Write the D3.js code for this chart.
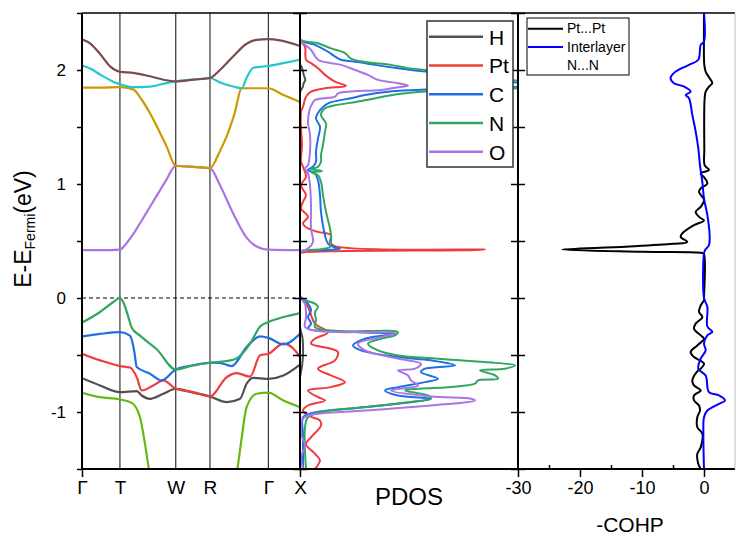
<!DOCTYPE html>
<html>
<head>
<meta charset="utf-8">
<script src="https://cdn.jsdelivr.net/npm/d3@7"></script>
<style>
  body { margin: 0; background: #fff; }
  svg { font-family: "Liberation Sans", Arial, sans-serif; }
</style>
</head>
<body>
<script>
// high symmetry points of the k path
var kLabels = ["Γ", "T", "W", "R", "Γ", "X"];
var kPos = [0, 0.174, 0.430, 0.587, 0.855, 1.0];

// tick values
var energyTicks = [2, 1, 0, -1];
var energyMinor = [2.5, 1.5, 0.5, -0.5, -1.5];
var energyAll = [2.5, 2, 1.5, 1, 0.5, 0, -0.5, -1, -1.5];
var cohpTicks = [-30, -20, -10, 0];
var cohpMinor = [-25, -15, -5];

// bands, [k, E]
var bandPurple = [[0,0.42],[0.083,0.42],[0.174,0.425],[0.2,0.47],[0.235,0.56],[0.274,0.68],[0.312,0.80],[0.35,0.92],[0.388,1.04],[0.43,1.16],[0.511,1.15],[0.587,1.14],[0.633,0.99],[0.694,0.74],[0.755,0.53],[0.786,0.47],[0.832,0.43],[0.855,0.425],[1.0,0.42]];
var bandGold = [[0,1.845],[0.083,1.845],[0.174,1.85],[0.235,1.83],[0.27,1.75],[0.312,1.62],[0.35,1.48],[0.388,1.33],[0.43,1.16],[0.511,1.15],[0.587,1.14],[0.633,1.29],[0.664,1.42],[0.7,1.62],[0.733,1.84],[0.855,1.84],[0.924,1.78],[1.0,1.72]];
var bandCyan = [[0,2.04],[0.04,2.01],[0.083,1.96],[0.13,1.91],[0.159,1.885],[0.174,1.875],[0.235,1.85],[0.312,1.855],[0.388,1.885],[0.43,1.90],[0.511,1.915],[0.587,1.93],[0.633,1.89],[0.694,1.855],[0.733,1.84],[0.755,1.93],[0.786,2.02],[0.855,2.035],[0.924,2.06],[1.0,2.09]];
var bandBrown = [[0,2.27],[0.04,2.23],[0.083,2.14],[0.13,2.03],[0.174,1.985],[0.235,1.975],[0.312,1.945],[0.388,1.91],[0.43,1.90],[0.511,1.915],[0.587,1.93],[0.633,2.0],[0.694,2.12],[0.755,2.23],[0.801,2.265],[0.855,2.27],[0.908,2.26],[1.0,2.21]];
var bandGrey = [[0,-0.703],[0.083,-0.767],[0.174,-0.826],[0.251,-0.817],[0.274,-0.855],[0.312,-0.884],[0.373,-0.84],[0.43,-0.796],[0.511,-0.83],[0.587,-0.864],[0.664,-0.914],[0.725,-0.884],[0.755,-0.752],[0.786,-0.70],[0.855,-0.709],[0.924,-0.68],[1.0,-0.585]];
var bandRed = [[0,-0.489],[0.083,-0.547],[0.174,-0.597],[0.22,-0.61],[0.251,-0.694],[0.274,-0.811],[0.327,-0.767],[0.373,-0.723],[0.43,-0.796],[0.511,-0.826],[0.587,-0.864],[0.664,-0.694],[0.709,-0.659],[0.771,-0.69],[0.817,-0.503],[0.855,-0.489],[0.924,-0.40],[0.97,-0.445],[1.0,-0.518]];
var bandBlue = [[0,-0.337],[0.083,-0.315],[0.174,-0.30],[0.22,-0.33],[0.24,-0.47],[0.251,-0.606],[0.312,-0.664],[0.365,-0.723],[0.43,-0.627],[0.511,-0.59],[0.587,-0.568],[0.633,-0.57],[0.687,-0.597],[0.755,-0.43],[0.817,-0.337],[0.855,-0.35],[0.924,-0.407],[1.0,-0.313]];
var bandGreen = [[0,-0.216],[0.083,-0.123],[0.144,-0.035],[0.174,0.0],[0.19,-0.04],[0.21,-0.15],[0.228,-0.26],[0.266,-0.33],[0.343,-0.45],[0.43,-0.627],[0.511,-0.59],[0.587,-0.568],[0.664,-0.553],[0.709,-0.53],[0.771,-0.40],[0.817,-0.25],[0.855,-0.211],[0.924,-0.167],[1.0,-0.132]];
var bandLime = [[0,-0.831],[0.083,-0.87],[0.174,-0.89],[0.228,-0.92],[0.266,-1.046],[0.289,-1.28],[0.307,-1.505],[0.315,-1.6],[0.5,null],[0.705,-1.6],[0.713,-1.5],[0.733,-1.22],[0.755,-0.958],[0.801,-0.84],[0.855,-0.83],[0.924,-0.9],[1.0,-0.958]];

var bands = [bandPurple, bandGold, bandCyan, bandBrown, bandGrey, bandRed, bandBlue, bandGreen, bandLime];
var bandColors = ["#a974e8", "#cc9900", "#22c8cc", "#7d4b4b", "#505050", "#f03c3c", "#1e6ee6", "#30a65e", "#66b814"];

// projected density of states, [E, DOS]
var dosH = [[2.5,0],[2.05,0],[2.03,0.15],[1.95,0.4],[1.913,0.53],[1.88,0.35],[1.855,0.3],[1.80,0],[-0.25,0],[-0.35,0.25],[-0.5,0.3],[-0.6,0.2],[-0.7,0],[-1.5,0]];
var dosPt = [[2.5,0],[2.27,0],[2.205,0.5],[2.09,0.6],[2.06,1.1],[2.016,1.8],[1.957,2.5],[1.898,3.5],[1.86,4.6],[1.84,2.5],[1.81,1.1],[1.766,0.6],[1.678,0.3],[1.635,0.1],[1.489,0.1],[1.342,0.2],[1.195,0.1],[1.151,0.3],[1.063,0.6],[0.99,0.1],[0.902,0.6],[0.844,0.3],[0.785,0.1],[0.712,0.8],[0.654,0.3],[0.61,0.8],[0.58,1.8],[0.551,3.1],[0.492,3.0],[0.455,3.5],[0.424,18.5],[0.41,3],[0.40,0.3],[0.39,0],[0.02,0],[-0.079,0.8],[-0.225,1.5],[-0.30,2.8],[-0.357,1.5],[-0.40,1.1],[-0.445,3.1],[-0.474,3.8],[-0.547,3.5],[-0.62,1.8],[-0.679,3.1],[-0.738,4.5],[-0.782,3.1],[-0.811,0.8],[-0.87,1.8],[-0.899,2.5],[-0.943,0.8],[-0.987,0.3],[-1.031,0.8],[-1.075,2.0],[-1.119,2.1],[-1.222,1.1],[-1.28,0.6],[-1.367,1.5],[-1.426,2.0],[-1.5,1.5]];
var dosC = [[2.5,0],[2.27,0],[2.22,1.5],[2.16,2.8],[2.118,3.5],[2.09,4.1],[2.07,5.8],[2.045,7.5],[2.016,9.8],[1.986,12.6],[1.95,17],[1.885,22],[1.87,24],[1.855,22],[1.84,16],[1.81,8.8],[1.78,6.5],[1.752,5.1],[1.708,2.8],[1.649,2.0],[1.576,1.6],[1.503,2.0],[1.40,1.8],[1.283,1.6],[1.195,1.6],[1.151,1.3],[1.122,0.8],[1.093,1.5],[1.034,1.8],[0.902,2.0],[0.756,2.1],[0.551,2.5],[0.478,2.8],[0.439,3.6],[0.43,4.0],[0.419,2.1],[0.40,0],[0.02,0],[-0.01,0.3],[-0.05,0.8],[-0.108,1.1],[-0.167,0.8],[-0.225,1.1],[-0.269,0.8],[-0.29,3.1],[-0.304,7.5],[-0.313,9.5],[-0.357,6.5],[-0.416,5.3],[-0.46,6.1],[-0.518,9.8],[-0.547,13.1],[-0.591,15.5],[-0.62,12.5],[-0.65,12.1],[-0.708,13.8],[-0.738,12.5],[-0.782,9.8],[-0.811,8.5],[-0.855,9.8],[-0.884,13.1],[-0.928,9.8],[-0.972,4.8],[-1.01,1.1],[-1.046,0.3],[-1.2,0.3],[-1.5,0.3]];
var dosN = [[2.5,0],[2.27,0],[2.235,1.8],[2.19,3.1],[2.148,4.5],[2.10,5.1],[2.07,6.5],[2.045,9.1],[2.016,10.8],[2.0,12.6],[1.95,17],[1.905,21.8],[1.87,25],[1.84,21.8],[1.825,15],[1.80,11],[1.77,8.5],[1.745,7.2],[1.72,5.6],[1.69,3.5],[1.664,2.5],[1.605,2.1],[1.532,2.6],[1.459,2.5],[1.342,2.3],[1.254,2.1],[1.195,2.1],[1.151,1.8],[1.13,1.1],[1.115,2.2],[1.10,1.2],[1.078,1.8],[1.019,2.1],[0.902,2.3],[0.756,2.6],[0.61,3.0],[0.551,3.1],[0.492,3.1],[0.448,3.0],[0.428,2.1],[0.41,0.1],[0.39,0],[0.02,0],[-0.01,0.3],[-0.05,1.5],[-0.079,1.8],[-0.123,1.5],[-0.196,1.6],[-0.255,1.5],[-0.29,3.8],[-0.30,9.8],[-0.328,9.5],[-0.357,8.1],[-0.40,6.8],[-0.46,7.8],[-0.504,9.8],[-0.532,13.8],[-0.562,18.5],[-0.591,21.5],[-0.62,20.5],[-0.635,18],[-0.679,19.5],[-0.708,19.8],[-0.723,17.8],[-0.752,17.5],[-0.782,14.8],[-0.811,10.5],[-0.855,12.8],[-0.884,13.1],[-0.914,10.8],[-0.958,6.5],[-0.993,2.5],[-1.046,0.8],[-1.134,0.5],[-1.34,0.5],[-1.5,0.6]];
var dosO = [[2.5,0],[2.27,0],[2.177,1.1],[2.09,1.8],[2.06,3.1],[2.045,4.1],[2.0,5.5],[1.957,6.8],[1.913,7.8],[1.884,9.8],[1.863,10.8],[1.845,9.5],[1.825,8.1],[1.81,4.8],[1.796,3.8],[1.766,3.5],[1.737,1.5],[1.70,1.2],[1.664,1.0],[1.547,0.8],[1.43,1.0],[1.283,1.0],[1.166,0.8],[1.137,0.5],[1.093,0.8],[0.99,1.0],[0.815,1.1],[0.61,1.1],[0.492,1.3],[0.434,0.8],[0.404,0.1],[0.39,0],[0.02,0],[-0.05,0.5],[-0.167,0.6],[-0.255,0.5],[-0.29,1.8],[-0.30,6.5],[-0.307,9.6],[-0.343,8.1],[-0.40,5.8],[-0.46,6.5],[-0.532,9.8],[-0.576,12.1],[-0.62,11.5],[-0.635,9.8],[-0.679,10.8],[-0.723,11.1],[-0.767,11.8],[-0.811,9.1],[-0.864,13.1],[-0.884,17.1],[-0.899,17.5],[-0.943,13.1],[-0.987,6.5],[-1.031,0.8],[-1.06,0.3],[-1.19,0.1],[-1.294,0.5],[-1.397,0.1],[-1.5,0.3]];

var dosNames = ["H", "Pt", "C", "N", "O"];
var dosSeries = [dosH, dosPt, dosC, dosN, dosO];
var dosColors = ["#505050", "#f03c3c", "#1e6ee6", "#30a65e", "#a974e8"];

// crystal orbital hamilton population, [E, -COHP]
var cohpPtPt = [[2.5,0],[2.09,0],[2.045,0.05],[1.986,0.27],[1.928,0.91],[1.884,1.34],[1.854,0.8],[1.81,0.27],[1.75,0.1],[1.3,0.05],[1.166,0.1],[1.122,0.8],[1.093,-0.53],[1.06,0],[1.005,0.54],[0.961,-0.53],[0.93,-0.8],[0.859,0],[0.80,-0.53],[0.756,-1.34],[0.712,-0.8],[0.68,0],[0.639,-1.61],[0.566,-3.5],[0.536,-3.76],[0.492,-2.69],[0.475,-5],[0.45,-12.6],[0.425,-22.9],[0.405,-10],[0.395,-0.3],[0.385,0],[0.0,0],[-0.02,0],[-0.064,-0.53],[-0.123,-0.8],[-0.167,-0.27],[-0.225,-1.34],[-0.269,-1.61],[-0.328,-0.53],[-0.357,0],[-0.416,-1.08],[-0.474,-2.15],[-0.518,-1.61],[-0.576,0],[-0.62,-0.53],[-0.644,-1.08],[-0.723,-1.88],[-0.767,-1.61],[-0.811,-0.53],[-0.855,-1.61],[-0.899,-1.61],[-0.943,-0.8],[-0.987,-0.65],[-1.046,-1.08],[-1.134,-1.08],[-1.19,-0.27],[-1.31,-0.53],[-1.367,-1.08],[-1.455,-0.92],[-1.5,-0.53]];
var cohpInter = [[2.5,0],[2.25,0],[2.22,-0.53],[2.09,-0.92],[2.045,-2.42],[1.986,-4.56],[1.928,-5.4],[1.884,-4.84],[1.854,-3.2],[1.81,-2.15],[1.78,-2.95],[1.752,-2.42],[1.605,-1.88],[1.459,-1.34],[1.313,-0.92],[1.166,-0.65],[1.019,-0.27],[0.873,0],[0.727,0.54],[0.551,0.91],[0.463,0.8],[0.419,0.16],[0.39,0],[0.0,0],[-0.079,0.54],[-0.25,0.54],[-0.298,1.34],[-0.328,0.54],[-0.4,0],[-0.46,0.27],[-0.532,-0.53],[-0.62,-0.92],[-0.68,0.27],[-0.826,0.8],[-0.855,2.42],[-0.899,3.39],[-0.928,2.42],[-0.987,0.54],[-1.046,0],[-1.2,-0.1],[-1.5,0]];

var cohpNames = ["Pt...Pt", "Interlayer", "N...N"];
var cohpColors = ["#000000", "#0000ff", null];

// panel geometry
var plotTop = 13, plotBottom = 469;
var bandLeft = 82, bandRight = 300, dosRight = 518, cohpRight = 735;

var svg = d3.select("body")
  .append("svg")
   .attr("width", 736)
   .attr("height", 537);

var yscale = d3.scaleLinear().domain([-1.5, 2.5]).range([plotBottom, plotTop]);
var kscale = d3.scaleLinear().domain([0, 1]).range([bandLeft, bandRight]);
var dosscale = d3.scaleLinear().domain([0, 21.8]).range([bandRight, dosRight]);
var cohpscale = d3.scaleLinear().domain([-30, 5]).range([dosRight, cohpRight]);

// clip paths for the three panels
var defs = svg.append("defs");
function addClip(id, x0, x1) {
  defs.append("clipPath").attr("id", id)
    .append("rect")
    .attr("x", x0).attr("y", plotTop)
    .attr("width", x1 - x0).attr("height", plotBottom - plotTop);
}
addClip("clipBand", bandLeft, bandRight);
addClip("clipDos", bandRight, dosRight);
addClip("clipCohp", dosRight, cohpRight);

// vertical lines at the high symmetry points
svg.append("g").selectAll("line")
  .data(kPos.slice(1, 5))
  .enter().append("line")
  .attr("x1", function(d) { return kscale(d); })
  .attr("x2", function(d) { return kscale(d); })
  .attr("y1", plotTop).attr("y2", plotBottom)
  .style("stroke", "#333")
  .style("stroke-width", 1.2);

// fermi level
svg.append("line")
  .attr("x1", bandLeft).attr("x2", bandRight)
  .attr("y1", yscale(0)).attr("y2", yscale(0))
  .style("stroke", "#000")
  .style("stroke-width", 1)
  .style("stroke-dasharray", "4,3");

// band lines
var bandLine = d3.line()
  .defined(function(d) { return d[1] !== null; })
  .x(function(d) { return kscale(d[0]); })
  .y(function(d) { return yscale(d[1]); })
  .curve(d3.curveMonotoneX);

svg.append("g")
  .attr("clip-path", "url(#clipBand)")
  .selectAll("path")
  .data(bands)
  .enter().append("path")
  .attr("d", bandLine)
  .style("fill", "none")
  .style("stroke", function(d, i) { return bandColors[i]; })
  .style("stroke-width", 2.2);

// pdos lines
var dosLine = d3.line()
  .x(function(d) { return dosscale(d[1]); })
  .y(function(d) { return yscale(d[0]); })
  .curve(d3.curveCatmullRom.alpha(0.5));

svg.append("g")
  .attr("clip-path", "url(#clipDos)")
  .selectAll("path")
  .data(dosSeries)
  .enter().append("path")
  .attr("d", dosLine)
  .style("fill", "none")
  .style("stroke", function(d, i) { return dosColors[i]; })
  .style("stroke-width", 2);

// cohp lines
var cohpLine = d3.line()
  .x(function(d) { return cohpscale(d[1]); })
  .y(function(d) { return yscale(d[0]); })
  .curve(d3.curveCatmullRom.alpha(0.5));

svg.append("g")
  .attr("clip-path", "url(#clipCohp)")
  .selectAll("path")
  .data([cohpPtPt, cohpInter])
  .enter().append("path")
  .attr("d", cohpLine)
  .style("fill", "none")
  .style("stroke", function(d, i) { return cohpColors[i]; })
  .style("stroke-width", 2);

// left y axis with labels
svg.append("g")
  .attr("class", "yaxis")
  .attr("transform", "translate(" + bandLeft + ",0)")
  .call(d3.axisLeft(yscale).tickValues(energyTicks).tickSize(5).tickPadding(11)
    .tickFormat(function(d) { return String(d); }))
  .call(function(g) { g.select(".domain").remove(); });

svg.append("g")
  .attr("transform", "translate(" + bandLeft + ",0)")
  .call(d3.axisLeft(yscale).tickValues(energyMinor).tickSize(5).tickFormat(""))
  .call(function(g) { g.select(".domain").remove(); });

// ticks on both sides of the inner panel borders
[bandRight, dosRight].forEach(function(xpos) {
  svg.append("g")
    .attr("transform", "translate(" + xpos + ",0)")
    .call(d3.axisLeft(yscale).tickValues(energyAll).tickSize(7).tickFormat(""))
    .call(function(g) { g.select(".domain").remove(); });
  svg.append("g")
    .attr("transform", "translate(" + xpos + ",0)")
    .call(d3.axisRight(yscale).tickValues(energyAll).tickSize(7).tickFormat(""))
    .call(function(g) { g.select(".domain").remove(); });
});

// k path labels
svg.append("g")
  .attr("class", "klabels")
  .attr("transform", "translate(0," + plotBottom + ")")
  .call(d3.axisBottom(kscale).tickValues(kPos).tickSize(0).tickPadding(12)
    .tickFormat(function(d, i) { return kLabels[i]; }))
  .call(function(g) { g.select(".domain").remove(); });

svg.append("g")
  .attr("transform", "translate(0," + plotBottom + ")")
  .call(d3.axisBottom(kscale).tickValues([0, 1]).tickSize(8).tickFormat(""))
  .call(function(g) { g.select(".domain").remove(); });

// cohp x axis
svg.append("g")
  .attr("class", "cohpaxis")
  .attr("transform", "translate(0," + plotBottom + ")")
  .call(d3.axisBottom(cohpscale).tickValues(cohpTicks).tickSize(8).tickPadding(4)
    .tickFormat(function(d) { return String(d); }))
  .call(function(g) { g.select(".domain").remove(); });

svg.append("g")
  .attr("transform", "translate(0," + plotBottom + ")")
  .call(d3.axisBottom(cohpscale).tickValues(cohpMinor).tickSize(-4).tickFormat(""))
  .call(function(g) { g.select(".domain").remove(); });

svg.selectAll(".tick line").style("stroke", "#000").style("stroke-width", 1.5);
svg.selectAll(".tick text").style("fill", "#000").style("font-family", "'Liberation Sans', Arial, sans-serif");
svg.selectAll(".yaxis .tick text").style("font-size", "17px");
svg.selectAll(".klabels .tick text").style("font-size", "19px");
svg.selectAll(".cohpaxis .tick text").style("font-size", "18px");

// frame
svg.append("line").attr("x1", bandLeft).attr("x2", cohpRight).attr("y1", plotTop).attr("y2", plotTop)
  .style("stroke", "#000").style("stroke-width", 1.5);
svg.append("line").attr("x1", bandLeft).attr("x2", cohpRight).attr("y1", plotBottom).attr("y2", plotBottom)
  .style("stroke", "#000").style("stroke-width", 2);
[bandLeft, bandRight, dosRight].forEach(function(xpos) {
  svg.append("line").attr("x1", xpos).attr("x2", xpos).attr("y1", plotTop).attr("y2", plotBottom)
    .style("stroke", "#000").style("stroke-width", 2);
});
svg.append("line").attr("x1", cohpRight).attr("x2", cohpRight).attr("y1", plotTop).attr("y2", plotBottom)
  .style("stroke", "#bbb").style("stroke-width", 1);

// pdos legend
var legend1 = svg.append("g");
legend1.append("rect")
  .attr("x", 427).attr("y", 21).attr("width", 86).attr("height", 146)
  .style("fill", "#fff").style("stroke", "#333").style("stroke-width", 1.5);
var item1 = legend1.selectAll(".item")
  .data(dosNames)
  .enter().append("g")
  .attr("transform", function(d, i) { return "translate(0," + (36.7 + i * 28.75) + ")"; });
item1.append("line")
  .attr("x1", 429).attr("x2", 483)
  .style("stroke", function(d, i) { return dosColors[i]; })
  .style("stroke-width", 2.5);
item1.append("text")
  .attr("x", 489).attr("y", 8)
  .style("font-size", "21px")
  .text(function(d) { return d; });

// cohp legend
var legend2 = svg.append("g");
legend2.append("rect")
  .attr("x", 527).attr("y", 18).attr("width", 102).attr("height", 57)
  .style("fill", "#fff").style("stroke", "#000").style("stroke-width", 1);
var item2 = legend2.selectAll(".item")
  .data(cohpNames)
  .enter().append("g")
  .attr("transform", function(d, i) { return "translate(0," + (33.3 + i * 18.3) + ")"; });
item2.filter(function(d, i) { return cohpColors[i] !== null; })
  .append("line")
  .attr("x1", 528).attr("x2", 563)
  .attr("y1", -4.5).attr("y2", -4.5)
  .style("stroke", function(d) { return cohpColors[cohpNames.indexOf(d)]; })
  .style("stroke-width", 2);
item2.append("text")
  .attr("x", 567).attr("y", 0)
  .style("font-size", "14px")
  .text(function(d) { return d; });

// axis titles
var ytitle = svg.append("text")
  .attr("transform", "translate(31,229) rotate(-90)")
  .style("text-anchor", "middle")
  .style("font-size", "23px");
ytitle.append("tspan").text("E-E");
ytitle.append("tspan").attr("dy", 4).style("font-size", "14px").text("Fermi");
ytitle.append("tspan").attr("dy", -4).text("(eV)");

svg.append("text")
  .attr("x", 409).attr("y", 505)
  .style("text-anchor", "middle")
  .style("font-size", "24px")
  .text("PDOS");

svg.append("text")
  .attr("x", 630).attr("y", 532)
  .style("text-anchor", "middle")
  .style("font-size", "21px")
  .text("-COHP");
</script>
</body>
</html>
